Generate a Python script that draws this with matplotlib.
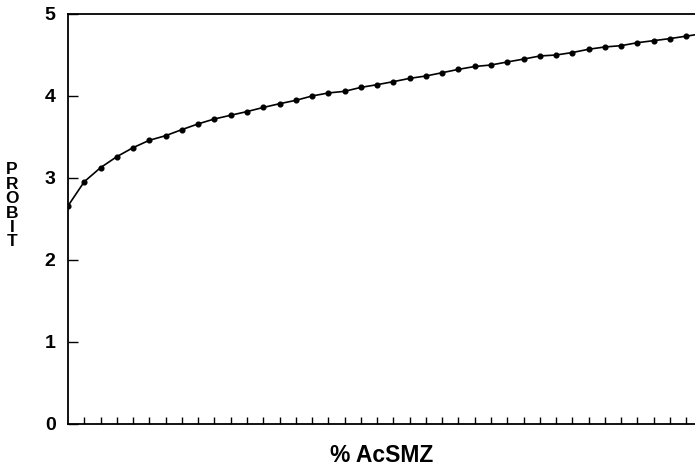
import matplotlib
matplotlib.use("Agg")
import matplotlib.pyplot as plt
import numpy as np

# probit values, one per tick step
probit = [2.66, 2.955, 3.126, 3.26, 3.37, 3.46, 3.516, 3.59, 3.66, 3.72,
          3.765, 3.81, 3.86, 3.906, 3.947, 4.0, 4.037, 4.057, 4.105, 4.138,
          4.175, 4.215, 4.244, 4.284, 4.325, 4.36, 4.378, 4.415, 4.45, 4.488,
          4.5, 4.53, 4.57, 4.598, 4.614, 4.65, 4.675, 4.70, 4.73, 4.76]
step = list(range(len(probit)))
y_ticks = [0, 1, 2, 3, 4, 5]

plt.rcParams['font.family'] = ['Liberation Sans', 'DejaVu Sans']

fig = plt.figure(figsize=(6.95, 4.68), dpi=100)
# axes runs past the right edge of the picture, like the scanned original
ax = fig.add_axes([68 / 695, 44 / 468, 634.5 / 695, 410 / 468])

ax.plot(step, probit, color='black', lw=1.2, marker='o', ms=3.4,
        clip_on=True)

ax.set_xlim(0, 39)
ax.set_ylim(0, 5)
ax.set_xticks(step[1:])
ax.set_xticklabels([])
ax.set_yticks(y_ticks)
ax.set_yticklabels([str(v) for v in y_ticks], fontsize=14, fontweight='bold')

ax.tick_params(axis='x', direction='in', length=5, width=1, color='black')
ax.tick_params(axis='y', direction='in', length=7, width=1, pad=9)

for s in ['left', 'bottom', 'top']:
    ax.spines[s].set_linewidth(1.3)
ax.spines['right'].set_visible(False)

# stacked vertical axis title
fig.text(12 / 695, 1 - 206 / 468, "P\nR\nO\nB\nI\nT", ha='center', va='center',
         fontsize=12.5, fontweight='bold', linespacing=0.95)

fig.text(382 / 695, 1 - 456 / 468, "% AcSMZ", ha='center', va='center',
         fontsize=16.5, fontweight='bold')

fig.savefig("out.png", dpi=100)
